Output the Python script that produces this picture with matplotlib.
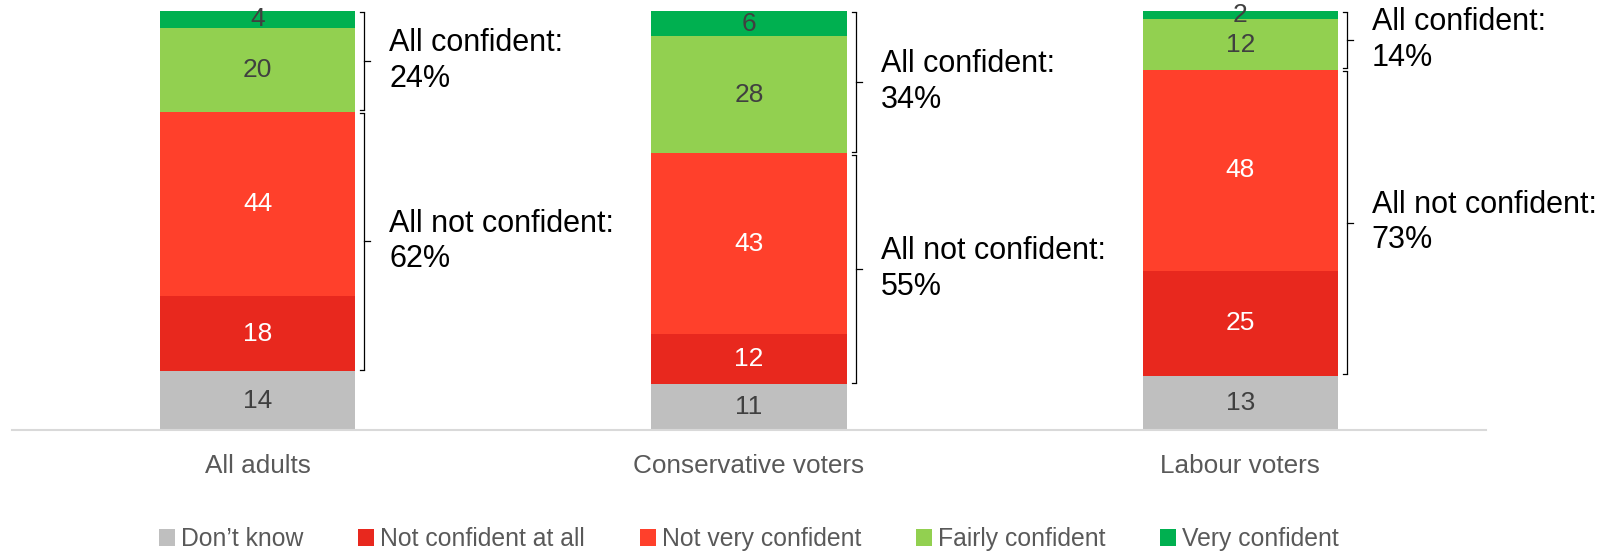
import numpy as np
import matplotlib.pyplot as plt

plt.rcParams['font.family'] = ['Liberation Sans', 'DejaVu Sans']

groups = ['All adults', 'Conservative voters', 'Labour voters']
dont_know = [14, 11, 13]
not_at_all = [18, 12, 25]
not_very = [44, 43, 48]
fairly = [20, 28, 12]
very = [4, 6, 2]
all_confident = [24, 34, 14]
all_not_confident = [62, 55, 73]

series = [
    ('Don\u2019t know', dont_know, '#BFBFBF', '#404040'),
    ('Not confident at all', not_at_all, '#E8281E', 'white'),
    ('Not very confident', not_very, '#FF402B', 'white'),
    ('Fairly confident', fairly, '#92D050', '#404040'),
    ('Very confident', very, '#00B050', '#404040'),
]

fig = plt.figure(figsize=(16.1, 5.52), dpi=100)
ax = fig.add_axes([12 / 1610, 122 / 552, (1486 - 12) / 1610, (430 - 11) / 552])

x = np.arange(len(groups))
width = 0.397
bottom = np.zeros(len(groups))
for name, vals, col, tcol in series:
    vals = np.array(vals, dtype=float)
    ax.bar(x, vals, width, bottom=bottom, color=col, label=name, linewidth=0)
    for xi, b, v in zip(x, bottom, vals):
        ax.text(xi, b + v / 2, f'{int(v)}', ha='center', va='center',
                fontsize=19, color=tcol)
    bottom += vals

# brackets and totals
px = 1 / 491.3
xb_off = width / 2 + 9 * px
hook = 4 * px
tick = 6 * px
gap = 0.3


def bracket(xc, y0, y1, label):
    xb = xc + xb_off
    y0, y1 = y0 + gap, y1 - gap
    ax.plot([xb, xb], [y0, y1], color='black', lw=0.9, solid_capstyle='butt')
    ax.plot([xb - hook, xb], [y0, y0], color='black', lw=0.9)
    ax.plot([xb - hook, xb], [y1, y1], color='black', lw=0.9)
    ym = (y0 + y1) / 2
    ax.plot([xb, xb + tick], [ym, ym], color='black', lw=0.9)
    ax.text(xc + width / 2 + 34 * px, ym, label, ha='left', va='center',
            fontsize=22, color='black', linespacing=1.25)


for i in range(len(groups)):
    base = dont_know[i]
    top_nc = base + not_at_all[i] + not_very[i]
    bracket(x[i], top_nc, top_nc + fairly[i] + very[i],
            f'All confident:\n{all_confident[i]}%')
    bracket(x[i], base, top_nc, f'All not confident:\n{all_not_confident[i]}%')

ax.set_xlim(-0.5, 2.5)
ax.set_ylim(0, 100)
ax.set_xticks(x)
ax.set_xticklabels(groups, fontsize=18.8, color='#595959')
ax.tick_params(axis='x', length=0, pad=17)
ax.set_yticks([])
for s in ['top', 'right', 'left']:
    ax.spines[s].set_visible(False)
ax.spines['bottom'].set_color('#D9D9D9')
ax.spines['bottom'].set_linewidth(1.5)

fig.legend(loc='center', bbox_to_anchor=(749 / 1610, 1 - 539 / 552), ncol=5,
           frameon=False, fontsize=17.8, handlelength=0.65, handleheight=0.65,
           handletextpad=0.25, columnspacing=2.2, labelcolor='#595959')

fig.savefig('out.png', dpi=100)
